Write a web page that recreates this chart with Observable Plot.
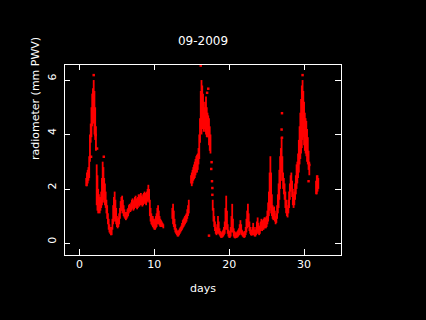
<!DOCTYPE html>
<html><head><meta charset="utf-8">
<script src="https://cdn.jsdelivr.net/npm/d3@7"></script>
<script src="https://cdn.jsdelivr.net/npm/@observablehq/plot@0.6"></script>
<style>html,body{margin:0;padding:0;background:#000;}</style>
</head><body><div id="chart"></div>
<script>
const title = "09-2009";
const xLabel = "days";
const yLabel = "radiometer (mm PWV)";
const xTicks = [0, 10, 20, 30];
const yTicks = [0, 2, 4, 6];

// [day, low, high] envelope of the dense PWV samples
const band = [
[0.9,2.1,2.4],[1.0,2.1,2.6],[1.1,2.2,2.7],[1.2,2.3,2.8],[1.3,2.4,3.2],[1.4,3.0,4.0],[1.5,3.7,4.4],[1.6,3.9,5.0],[1.7,4.3,5.5],[1.8,4.5,5.7],[1.9,4.4,6.0],[2.0,4.0,5.6],[2.1,3.8,5.0],[2.2,3.4,4.3],[2.3,1.4,2.9],[2.4,1.2,2.5],[2.5,1.1,2.0],[2.6,1.2,1.8],[2.7,1.1,1.7],[2.8,1.2,1.7],[2.9,1.3,1.9],[3.0,1.4,2.4],[3.1,1.5,3.0],[3.2,1.6,2.8],[3.3,1.5,2.4],[3.4,1.4,2.2],[3.5,1.3,1.9],[3.6,1.1,1.6],[3.7,0.9,1.4],[3.8,0.7,1.1],[3.9,0.5,0.9],[4.0,0.4,0.7],[4.1,0.35,0.6],[4.2,0.3,0.55],[4.3,0.3,0.6],[4.4,0.5,0.9],[4.5,0.7,1.4],[4.6,0.8,1.7],[4.7,0.9,1.9],[4.8,0.8,1.6],[4.9,0.7,1.3],[5.0,0.6,1.0],[5.1,0.55,0.9],[5.2,0.6,0.95],[5.3,0.7,1.1],[5.4,0.9,1.3],[5.5,1.1,1.55],[5.6,1.2,1.7],[5.7,1.2,1.75],[5.8,1.1,1.6],[5.9,1.0,1.4],[6.0,0.95,1.25],[6.1,0.9,1.15],[6.2,0.85,1.1],[6.3,0.9,1.15],[6.4,0.95,1.25],[6.5,1.0,1.3],[6.6,1.1,1.4],[6.7,1.2,1.45],[6.8,1.15,1.4],[6.9,1.2,1.5],[7.0,1.25,1.6],[7.1,1.3,1.65],[7.2,1.2,1.55],[7.3,1.25,1.6],[7.4,1.3,1.7],[7.5,1.35,1.75],[7.6,1.3,1.65],[7.7,1.25,1.6],[7.8,1.3,1.7],[7.9,1.4,1.8],[8.0,1.35,1.75],[8.1,1.4,1.8],[8.2,1.45,1.85],[8.3,1.4,1.75],[8.4,1.35,1.7],[8.5,1.4,1.8],[8.6,1.45,1.85],[8.7,1.5,1.9],[8.8,1.45,1.85],[8.9,1.4,1.8],[9.0,1.5,1.9],[9.1,1.55,2.0],[9.2,1.6,2.15],[9.3,1.5,2.0],[9.4,1.0,1.6],[9.5,0.8,1.3],[9.6,0.7,1.1],[9.7,0.65,1.0],[9.8,0.6,1.0],[9.9,0.55,0.9],[10.0,0.5,0.85],[10.1,0.5,0.9],[10.2,0.55,1.0],[10.3,0.6,1.1],[10.4,0.7,1.3],[10.5,0.75,1.4],[10.6,0.7,1.2],[10.7,0.65,1.0],[10.8,0.6,0.9],[10.9,0.6,0.85],[11.0,0.6,0.8],[11.1,0.6,0.75],[11.2,0.55,0.7],
[12.4,0.9,1.3],[12.5,0.7,1.45],[12.6,0.6,1.2],[12.7,0.5,0.9],[12.8,0.4,0.7],[12.9,0.35,0.55],[13.0,0.3,0.5],[13.1,0.25,0.45],[13.2,0.25,0.45],[13.3,0.3,0.5],[13.4,0.35,0.55],[13.5,0.4,0.6],[13.6,0.45,0.65],[13.7,0.5,0.75],[13.8,0.55,0.85],[13.9,0.6,0.9],[14.0,0.65,0.95],[14.1,0.7,1.0],[14.2,0.75,1.05],[14.3,0.8,1.1],[14.4,0.9,1.25],[14.5,1.0,1.4],[14.6,1.1,1.6],
[14.9,2.2,2.5],[15.0,2.1,2.6],[15.1,2.2,2.7],[15.2,2.3,2.8],[15.3,2.35,2.9],[15.4,2.4,3.0],[15.5,2.5,3.1],[15.6,2.6,3.2],[15.7,2.6,3.25],[15.8,2.7,3.3],[15.9,2.9,3.5],[16.0,3.1,4.0],[16.1,3.7,4.6],[16.2,4.2,5.6],[16.3,4.0,6.0],[16.4,4.2,5.8],[16.5,4.3,5.5],[16.6,4.1,5.2],[16.7,4.2,5.0],[16.8,4.1,5.2],[16.9,4.0,5.4],[17.0,3.9,5.0],[17.1,3.9,4.8],[17.2,3.9,4.7],[17.3,3.6,4.6],[17.4,3.4,4.3],[17.5,3.3,4.0],[17.8,1.2,1.6],[17.9,0.8,1.3],
[18.0,0.6,1.0],[18.1,0.45,0.8],[18.2,0.35,0.6],[18.3,0.3,0.55],[18.4,0.35,0.7],[18.5,0.4,1.0],[18.6,0.35,0.8],[18.7,0.3,0.55],[18.8,0.25,0.45],[18.9,0.2,0.4],[19.0,0.2,0.4],[19.1,0.22,0.45],[19.2,0.25,0.5],[19.3,0.3,0.6],[19.4,0.35,0.8],[19.5,0.5,1.3],[19.6,0.7,1.75],[19.7,0.5,1.2],[19.8,0.35,0.7],[19.9,0.25,0.5],[20.0,0.2,0.4],[20.1,0.2,0.45],[20.2,0.25,0.6],[20.3,0.4,1.0],[20.4,0.55,1.45],[20.5,0.4,0.9],[20.6,0.25,0.55],[20.7,0.2,0.45],[20.8,0.18,0.4],[20.9,0.2,0.4],[21.0,0.2,0.4],[21.1,0.22,0.45],[21.2,0.25,0.5],[21.3,0.3,0.55],[21.4,0.3,0.7],[21.5,0.4,0.85],[21.6,0.35,0.7],[21.7,0.3,0.5],[21.8,0.25,0.45],[21.9,0.22,0.4],[22.0,0.2,0.4],[22.1,0.22,0.45],[22.2,0.3,0.6],[22.3,0.4,0.9],[22.4,0.55,1.2],[22.5,0.7,1.45],[22.6,0.6,1.1],[22.7,0.45,0.8],[22.8,0.35,0.6],[22.9,0.3,0.5],[23.0,0.28,0.5],[23.1,0.3,0.6],[23.2,0.35,0.75],[23.3,0.3,0.6],[23.4,0.25,0.5],[23.5,0.25,0.5],[23.6,0.3,0.6],[23.7,0.35,0.8],[23.8,0.4,0.95],[23.9,0.35,0.75],[24.0,0.3,0.6],[24.1,0.35,0.65],[24.2,0.45,0.8],[24.3,0.5,0.9],[24.4,0.45,0.8],[24.5,0.5,0.85],[24.6,0.5,0.9],[24.7,0.55,0.95],[24.8,0.6,0.95],[24.9,0.55,0.9],[25.0,0.6,1.0],[25.1,0.7,1.2],[25.2,0.8,1.5],[25.3,1.0,1.9],[25.4,1.2,2.6],[25.5,1.3,3.2],[25.6,1.1,2.6],[25.7,1.0,1.8],[25.8,0.9,1.4],[25.9,0.85,1.3],[26.0,0.9,1.35],[26.1,0.8,1.2],[26.2,0.7,1.0],[26.3,0.75,1.1],[26.4,0.9,1.4],[26.5,1.1,1.8],[26.6,1.3,2.2],[26.7,1.6,2.7],[26.8,2.0,3.2],[26.9,2.3,3.5],[27.0,2.6,3.9],[27.1,2.3,3.2],[27.2,2.0,2.6],[27.3,1.8,2.4],[27.4,1.6,2.2],[27.5,1.3,1.9],[27.6,1.1,1.6],[27.7,1.0,1.4],[27.8,0.95,1.3],[27.9,1.1,1.6],[28.0,1.3,1.9],[28.1,1.6,2.2],[28.2,1.9,2.5],[28.3,2.0,2.6],[28.4,1.7,2.3],[28.5,1.4,2.0],[28.6,1.3,1.8],[28.7,1.4,1.9],[28.8,1.6,2.2],[28.9,1.8,2.5],[29.0,2.0,2.9],[29.1,2.2,3.0],[29.2,2.4,3.3],[29.3,2.6,3.8],[29.4,2.9,4.3],[29.5,3.1,4.8],[29.6,3.3,5.3],[29.7,3.5,5.8],[29.8,3.8,6.0],[29.9,3.9,5.6],[30.0,3.6,5.2],[30.1,3.4,4.8],[30.2,3.3,4.6],[30.3,3.2,4.5],[30.4,3.0,4.2],[30.5,2.9,3.9],[30.6,2.7,3.4],[30.7,2.5,3.0],
[31.6,1.8,2.3],[31.7,1.8,2.5],[31.8,1.9,2.5],[31.9,2.0,2.4]
];

// isolated samples away from the main band
const spikeDays = [1.9, 2.35, 3.25, 16.2, 17.2, 17.6, 17.65, 17.7, 17.75, 17.75, 17.3, 27.05, 27.0, 27.05, 29.8, 30.6, 30.7, 1.55, 2.15, 16.35, 17.05];
const spikeVals = [6.2, 3.5, 3.2, 6.55, 5.7, 2.75, 3.0, 2.3, 1.8, 2.05, 0.3, 4.8, 4.2, 3.9, 6.2, 2.3, 2.9, 3.2, 4.0, 5.3, 5.55];

const spikes = spikeDays.map((d, i) => ({day: d, v: spikeVals[i]}));

const W = 426, H = 320, mL = 64, mR = 85, mT = 64, mB = 65;
const fw = W - mL - mR, fh = H - mT - mB, tk = 6;

const chart = Plot.plot({
  width: W, height: H,
  marginLeft: mL, marginRight: mR, marginTop: mT, marginBottom: mB,
  style: {background: "black", color: "white", fontFamily: "DejaVu Sans", fontSize: "11px"},
  x: {domain: [-2, 35], axis: null},
  y: {domain: [-0.43, 6.59], axis: null},
  marks: [
    Plot.ruleX(band, {x: d => d[0], y1: d => d[1], y2: d => d[2], stroke: "#ff0000", strokeWidth: 1.8}),
    Plot.dot(spikes, {x: "day", y: "v", symbol: "square", r: 1.4, fill: "#ff0000", stroke: null}),
    Plot.frame({stroke: "white", strokeWidth: 1, shapeRendering: "crispEdges"}),
    Plot.tickX(xTicks, {x: d => d, insetTop: fh - tk, stroke: "white", shapeRendering: "crispEdges"}),
    Plot.tickX(xTicks, {x: d => d, insetBottom: fh - tk, stroke: "white", shapeRendering: "crispEdges"}),
    Plot.tickY(yTicks, {y: d => d, insetRight: fw - tk, stroke: "white", shapeRendering: "crispEdges"}),
    Plot.tickY(yTicks, {y: d => d, insetLeft: fw - tk, stroke: "white", shapeRendering: "crispEdges"}),
    Plot.text(xTicks, {x: d => d, text: d => String(d), frameAnchor: "bottom", dy: 12, fill: "white"}),
    Plot.text(yTicks, {y: d => d, text: d => String(d), frameAnchor: "left", dx: -12, rotate: -90, fill: "white"}),
    Plot.text([xLabel], {text: d => d, frameAnchor: "bottom", dy: 36, fill: "white"}),
    Plot.text([yLabel], {text: d => d, frameAnchor: "left", dx: -29, rotate: -90, fill: "white"}),
    Plot.text([title], {text: d => d, frameAnchor: "top", dy: -28, fill: "white", fontSize: 12})
  ]
});
document.getElementById("chart").appendChild(chart);
</script>
</body></html>
